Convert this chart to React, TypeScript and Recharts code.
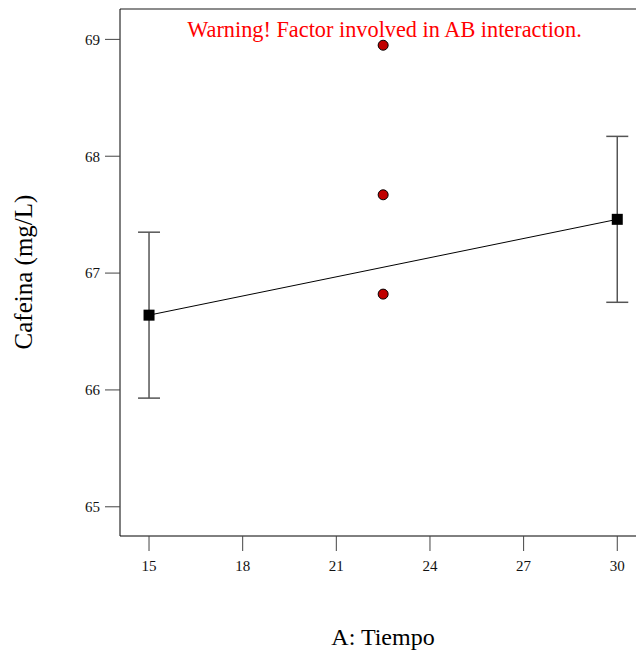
import { ComposedChart, Line, Scatter, XAxis, YAxis, ErrorBar, ReferenceLine, Customized } from 'recharts';

// mean prediction at the two ends of A: Tiempo
const tiempo = [15, 30];
const cafeinaMean = [66.64, 67.46];
const cafeinaLow = [65.93, 66.75];
const cafeinaHigh = [67.35, 68.17];

// design points (center runs)
const pointTiempo = [22.5, 22.5, 22.5];
const pointCafeina = [68.95, 67.67, 66.82];

const xTicks = [15, 18, 21, 24, 27, 30];
const yTicks = [65, 66, 67, 68, 69];

const FONT = '"Liberation Serif", "Times New Roman", serif';

const lineData = tiempo.map((t, i) => ({
  x: t,
  mean: cafeinaMean[i],
  err: [cafeinaMean[i] - cafeinaLow[i], cafeinaHigh[i] - cafeinaMean[i]],
}));

const pointData = pointTiempo.map((t, i) => ({ x: t, y: pointCafeina[i] }));

const SquareDot = (props: any) => {
  const { cx, cy } = props;
  if (cx == null || cy == null) return null;
  return <rect x={cx - 5.5} y={cy - 5.5} width={11} height={11} fill="#000" />;
};

const RedDot = (props: any) => {
  const { cx, cy } = props;
  return <circle cx={cx} cy={cy} r={5} fill="#c00000" stroke="#000" strokeWidth={1} />;
};

const Titles = () => (
  <g fontFamily={FONT}>
    <text x={384.5} y={37} textAnchor="middle" fontSize={22.3} fill="#ff0000">
      Warning! Factor involved in AB interaction.
    </text>
    <text x={383} y={645} textAnchor="middle" fontSize={24} fill="#000">
      A: Tiempo
    </text>
    <text x={32} y={272} textAnchor="middle" fontSize={25} fill="#000" transform="rotate(-90 32 272)">
      Cafeina (mg/L)
    </text>
  </g>
);

export default function App() {
  return (
    <div style={{ position: 'absolute', left: 0, top: 0, background: '#fff' }}>
      <ComposedChart
        width={636}
        height={652}
        data={lineData}
        margin={{ top: 9, right: 0, bottom: 0, left: 0 }}
      >
        <XAxis
          type="number"
          dataKey="x"
          domain={[14.07, 30.6]}
          ticks={xTicks}
          allowDataOverflow
          height={116}
          tickSize={15}
          tickMargin={9}
          axisLine={{ stroke: '#000' }}
          tickLine={{ stroke: '#444' }}
          tick={{ fontSize: 15, fill: '#111', fontFamily: FONT }}
        />
        <YAxis
          type="number"
          domain={[64.75, 69.26]}
          ticks={yTicks}
          allowDataOverflow
          width={120}
          tickSize={15}
          tickMargin={5}
          axisLine={{ stroke: '#000' }}
          tickLine={{ stroke: '#444' }}
          tick={{ fontSize: 15, fill: '#111', fontFamily: FONT }}
        />
        <ReferenceLine y={69.26} stroke="#666" strokeWidth={1.5} />
        <Line
          type="linear"
          dataKey="mean"
          stroke="#000"
          strokeWidth={1}
          dot={<SquareDot />}
          activeDot={false}
          isAnimationActive={false}
        >
          <ErrorBar dataKey="err" direction="y" width={11} stroke="#555" strokeWidth={1.5} />
        </Line>
        <Scatter data={pointData} dataKey="y" shape={<RedDot />} isAnimationActive={false} />
        <Customized component={Titles} />
      </ComposedChart>
    </div>
  );
}
